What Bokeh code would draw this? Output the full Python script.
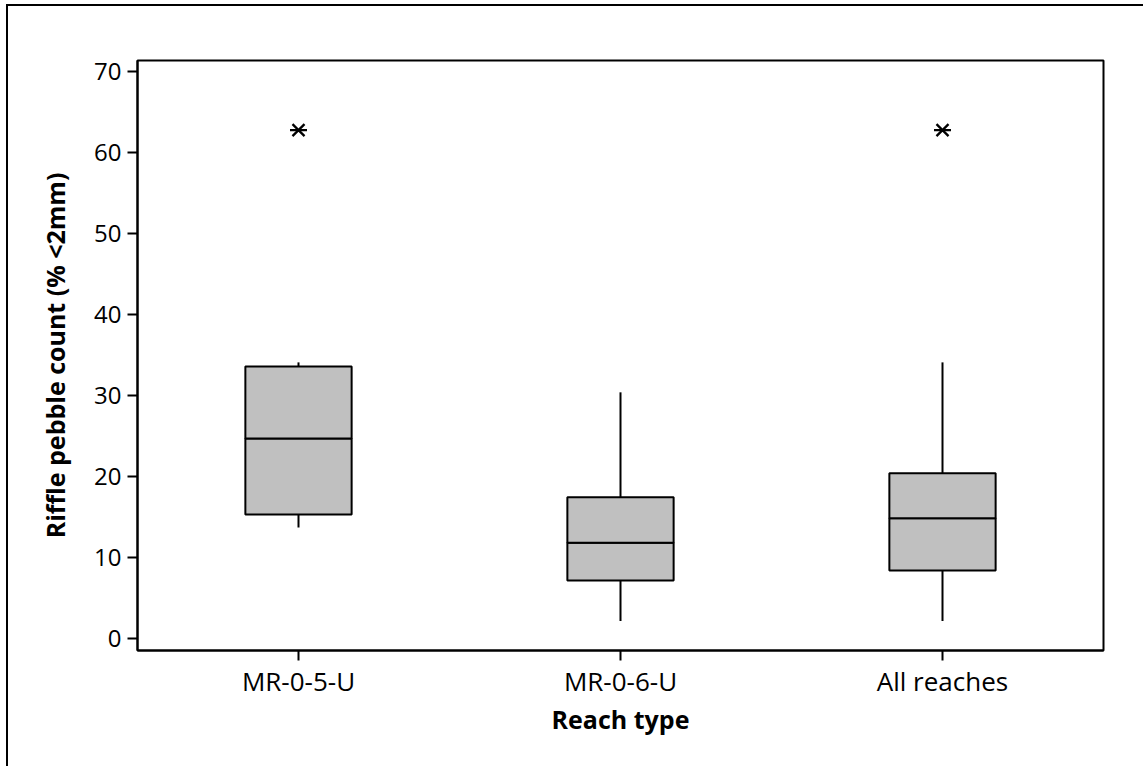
from bokeh.plotting import figure
from bokeh.models import FactorRange, Range1d, FixedTicker
from bokeh.embed import file_html
from bokeh.resources import INLINE

# ---- data ----
categories = ["MR-0-5-U", "MR-0-6-U", "All reaches"]
q1 = [15.3, 7.16, 8.4]
median = [24.7, 11.8, 14.85]
q3 = [33.6, 17.45, 20.4]
whisker_low = [13.7, 2.15, 2.15]
whisker_high = [34.1, 30.4, 34.1]
outlier_cats = ["MR-0-5-U", "All reaches"]
outlier_vals = [62.8, 62.8]
y_ticks = [0, 10, 20, 30, 40, 50, 60, 70]

FONT = "Open Sans"

p = figure(
    width=1137, height=762,
    x_range=FactorRange(factors=categories),
    y_range=Range1d(-1.5, 71.4),
    output_backend="svg", toolbar_location=None,
    min_border_left=129, min_border_top=54, min_border_right=42, min_border_bottom=118,
)
p.styles = {"margin-left": "6px", "margin-top": "4px",
            "border-left": "2px solid black", "border-top": "2px solid black"}

p.xgrid.visible = False
p.ygrid.visible = False
p.outline_line_color = "black"
p.outline_line_width = 2
p.outline_line_alpha = 1.0

# whiskers
p.segment(x0=categories, y0=q3, x1=categories, y1=whisker_high, line_color="black", line_width=2)
p.segment(x0=categories, y0=q1, x1=categories, y1=whisker_low, line_color="black", line_width=2)
# boxes (lower and upper halves -> median line)
p.vbar(x=categories, bottom=q1, top=median, width=0.33, fill_color="#c0c0c0",
       line_color="black", line_width=2)
p.vbar(x=categories, bottom=median, top=q3, width=0.33, fill_color="#c0c0c0",
       line_color="black", line_width=2)
# outliers
p.scatter(x=outlier_cats, y=outlier_vals, marker="x", size=17, line_color="black", line_width=2.3)
p.scatter(x=outlier_cats, y=outlier_vals, marker="dash", size=17, line_color="black", line_width=2.3)

# axes
for ax in (p.xaxis[0], p.yaxis[0]):
    ax.axis_line_color = "black"
    ax.axis_line_width = 2
    ax.major_tick_line_color = "black"
    ax.major_tick_line_width = 2
    ax.major_tick_out = 10
    ax.major_tick_in = 0
    ax.minor_tick_line_color = None
    ax.major_label_text_font = FONT
    ax.major_label_text_color = "black"
    ax.axis_label_text_font = FONT
    ax.axis_label_text_font_style = "bold"
    ax.axis_label_text_color = "black"
    ax.axis_label_text_font_size = "25px"

p.yaxis.ticker = FixedTicker(ticks=y_ticks)
p.yaxis.major_label_text_font_size = "24px"
p.yaxis.major_label_standoff = 6
p.yaxis.axis_label = "Riffle pebble count (% <2mm)"
p.yaxis.axis_label_standoff = 19

p.xaxis.major_label_text_font_size = "26px"
p.xaxis.major_label_standoff = 2
p.xaxis.axis_label = "Reach type"
p.xaxis.axis_label_standoff = 0

open("out.html", "w").write(file_html(p, INLINE))
